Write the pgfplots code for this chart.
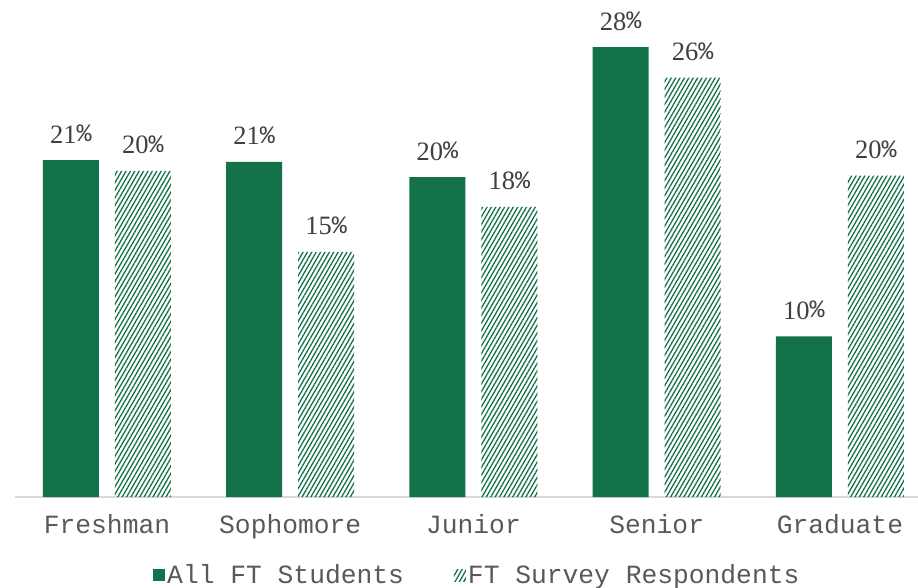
\documentclass[border=0pt]{standalone}
\usepackage{fontspec}
\setmainfont{Liberation Serif}
\newfontfamily\mono{Liberation Mono}
\usepackage{pgfplots}
\pgfplotsset{compat=1.18}
\usetikzlibrary{patterns.meta}
\definecolor{fgreen}{RGB}{20,114,72}
\definecolor{lblgray}{RGB}{64,64,64}
\definecolor{catgray}{RGB}{89,89,89}
\definecolor{axgray}{RGB}{217,217,217}
\begin{document}
\begin{tikzpicture}
\begin{axis}[
  scale only axis,
  width=903pt, height=497pt,
  xmin=-0.502, xmax=4.426,
  ymin=0, ymax=30.93,
  axis x line*=bottom,
  axis y line=none,
  x axis line style={draw=axgray, line width=1.8pt, -},
  xtick={0,1,2,3,4},
  xticklabels={Freshman,Sophomore,Junior,Senior,Graduate},
  xtick style={draw=none},
  xticklabel style={font=\mono\fontsize{26.3}{27}\selectfont, text=catgray, anchor=base, yshift=-36pt},
  clip=false,
  legend columns=2,
  legend style={draw=none, at={(0.512,-0.157)}, anchor=center,
    font=\mono\fontsize{26.3}{27}\selectfont, text=catgray,
    /tikz/every even column/.append style={column sep=48pt},
    inner sep=0pt},
  nodes near coords={\pgfmathprintnumber[fixed,precision=0,assume math mode=true]{\pgfplotspointmeta}{\mono\fontsize{25}{25}\selectfont\raisebox{1.5pt}{\%}}},
  every node near coord/.append style={font=\fontsize{26.5}{26}\selectfont, text=lblgray, anchor=base, yshift=17pt, inner sep=0pt},
]
\addplot[ybar, bar width=56pt, bar shift=-36pt, fill=fgreen, draw=none,
  every node near coord/.append style={xshift=-36pt},
  legend image code/.code={\fill[fgreen] (0pt,-6pt) rectangle (12pt,6pt);}]
  coordinates {(0,20.97) (1,20.85) (2,19.9) (3,28.0) (4,10.0)};
\addlegendentry{All FT Students}
\addplot[ybar, bar width=56pt, bar shift=36pt, draw=none,
  every node near coord/.append style={xshift=36pt},
  pattern={Lines[angle=60,distance=3.8pt,line width=1.3pt]}, pattern color=fgreen,
  legend image code/.code={\fill[pattern={Lines[angle=60,distance=3.8pt,line width=1.3pt]}, pattern color=fgreen] (0pt,-6pt) rectangle (12pt,6pt);}]
  coordinates {(0,20.3) (1,15.25) (2,18.05) (3,26.1) (4,20.0)};
\addlegendentry{FT Survey Respondents}
\end{axis}
\pgfresetboundingbox
\path[use as bounding box] (-15pt,-90pt) rectangle (903pt,497pt);
\end{tikzpicture}
\end{document}
